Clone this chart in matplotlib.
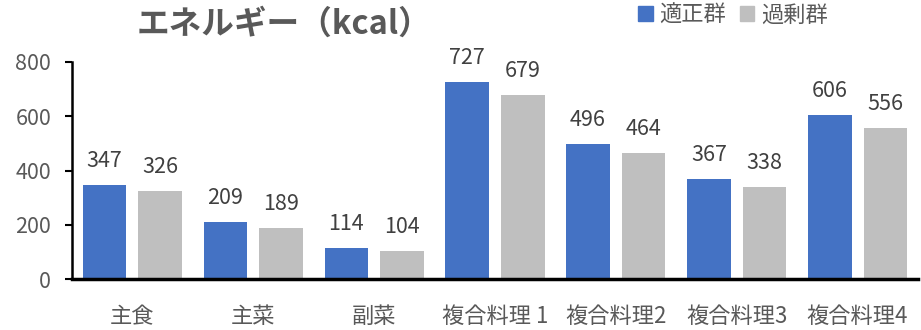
import matplotlib
matplotlib.use("Agg")
import matplotlib.pyplot as plt
import numpy as np
from matplotlib.patches import Patch

plt.rcParams['font.family'] = ['Noto Sans CJK JP', 'DejaVu Sans']

categories = ['主食', '主菜', '副菜', '複合料理 1', '複合料理2', '複合料理3', '複合料理4']
series_names = ['適正群', '過剰群']
appropriate = [347, 209, 114, 727, 496, 367, 606]
excess = [326, 189, 104, 679, 464, 338, 556]
yticks = [0, 200, 400, 600, 800]
title = 'エネルギー（kcal）'

blue = '#4472C4'
gray = '#BFBFBF'
textc = '#595959'

fig = plt.figure(figsize=(9.21, 3.3), dpi=100)
ax = fig.add_axes([72/921, 1-279/330, (918-72)/921, (279-62)/330])

x = np.arange(len(categories))
w = 0.36
gap = 0.1
b1 = ax.bar(x - (w+gap)/2, appropriate, w, color=blue)
b2 = ax.bar(x + (w+gap)/2, excess, w, color=gray)

for bars, vals in ((b1, appropriate), (b2, excess)):
    for r, v in zip(bars, vals):
        ax.annotate(str(v), (r.get_x() + r.get_width()/2, v), xytext=(0, 13),
                    textcoords='offset points', ha='center', va='baseline',
                    fontsize=15.5, color='#404040')

ax.set_xlim(-0.5, len(categories) - 0.5)
ax.set_ylim(0, 800)
ax.set_yticks(yticks)
ax.set_yticklabels([str(t) for t in yticks], fontsize=15.5, color=textc)
ax.set_xticks(x)
ax.set_xticklabels(categories, fontsize=16, color=textc)
ax.tick_params(axis='x', length=0, pad=19)
ax.tick_params(axis='y', length=5, width=1.5, direction='out', pad=10)
for s in ('top', 'right'):
    ax.spines[s].set_visible(False)
ax.spines['left'].set_linewidth(1.8)
ax.spines['bottom'].set_linewidth(2.5)
ax.spines['bottom'].set_zorder(5)

fig.text(137/921, 1-24/330, title, ha='left', va='center', fontsize=23.5,
         fontweight='bold', color=textc)

handles = [Patch(color=blue), Patch(color=gray)]
fig.legend(handles, series_names, loc='center', bbox_to_anchor=(733/921, 1-15/330),
           ncol=2, frameon=False, fontsize=16, handlelength=0.65, handleheight=0.65,
           handletextpad=0.3, columnspacing=0.6, labelcolor=textc,
           borderpad=0, borderaxespad=0)

fig.savefig('out.png', dpi=100)
